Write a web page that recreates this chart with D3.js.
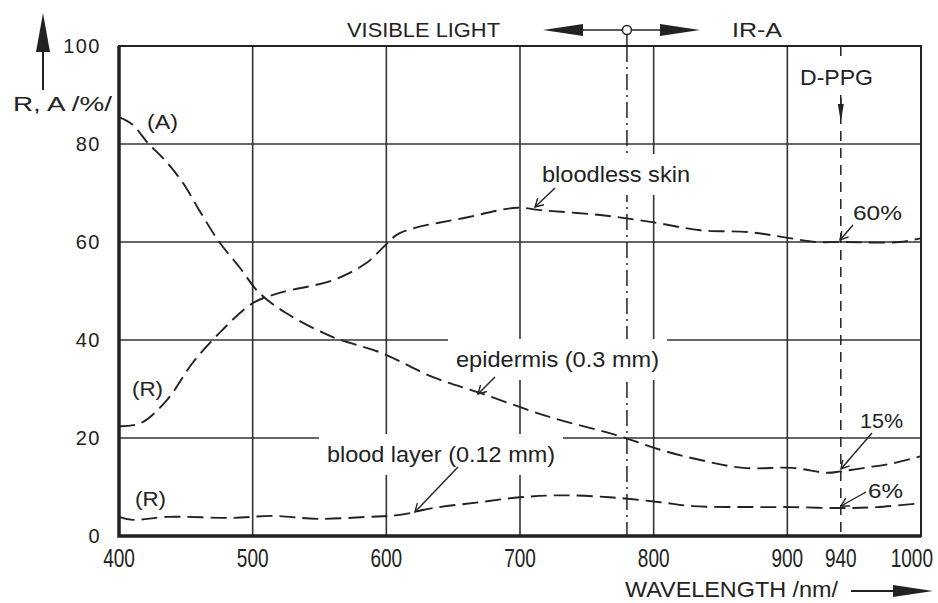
<!DOCTYPE html>
<html>
<head>
<meta charset="utf-8">
<script src="https://cdn.jsdelivr.net/npm/d3@7"></script>
<style>
  body { margin: 0; background: #fff; }
  svg text { font-family: "Liberation Sans", Arial, sans-serif; fill: #222; }
</style>
</head>
<body>
<svg width="938" height="603"></svg>
<script>
// absorption of the epidermis (A)
const epidermisNm = [400, 410, 421, 435, 448, 460, 475, 490, 505, 525, 560, 597, 635, 670, 722, 772, 805, 835, 867, 904, 930, 940, 960, 980, 1000];
const epidermisPct = [85.5, 84, 80.4, 76.5, 72, 66.5, 60, 54.9, 49.6, 45.5, 40.6, 37.3, 32.4, 29.2, 24.3, 20.6, 17.6, 15.5, 13.9, 13.9, 12.9, 13.2, 14, 14.9, 16.3];

// reflection of bloodless skin (R)
const skinNm = [400, 416, 436, 455, 475, 500, 520, 560, 585, 598, 610, 660, 698, 715, 760, 800, 835, 872, 897, 922, 940, 984, 1000];
const skinPct = [22.4, 23, 27.8, 35.3, 41.4, 47.5, 49.6, 52.2, 55.7, 59, 61.8, 65, 67, 66.5, 65.5, 64, 62.4, 62, 61, 60, 60, 60, 60.8];

// reflection of the blood layer (R)
const bloodNm = [400, 410, 436, 485, 515, 548, 586, 610, 635, 670, 700, 730, 767, 805, 829, 879, 904, 939, 967, 1000];
const bloodPct = [3.9, 3.3, 3.9, 3.7, 4.1, 3.5, 3.9, 4.3, 5.7, 6.9, 7.9, 8.3, 7.9, 6.9, 6.1, 5.9, 5.9, 5.7, 5.9, 6.7];

const xTicks = [400, 500, 600, 700, 800, 900, 940, 1000];
const yTicks = [0, 20, 40, 60, 80, 100];
const xGrid = [500, 600, 700, 800, 900];
const yGrid = [20, 40, 60, 80];
const visibleLimitNm = 780;
const dppgNm = 940;

const svg = d3.select('svg');
const x = d3.scaleLinear().domain([400, 1000]).range([119, 921]);
const y = d3.scaleLinear().domain([0, 100]).range([536, 46]);
const ink = '#222';

const defs = svg.append('defs');
defs.append('marker')
  .attr('id', 'open')
  .attr('viewBox', '-1 -6 10 12')
  .attr('refX', 8).attr('refY', 0)
  .attr('markerWidth', 10).attr('markerHeight', 12)
  .attr('markerUnits', 'userSpaceOnUse')
  .attr('orient', 'auto')
  .append('path')
  .attr('d', 'M0,-4.5L8,0L0,4.5')
  .attr('fill', 'none').attr('stroke', ink).attr('stroke-width', 1.4);

// grid
const grid = svg.append('g').attr('stroke', '#333').attr('stroke-width', 1.6);
grid.selectAll('.v').data(xGrid).join('line')
  .attr('x1', d => x(d)).attr('x2', d => x(d))
  .attr('y1', y(0)).attr('y2', y(100));
grid.selectAll('.h').data(yGrid).join('line')
  .attr('x1', x(400)).attr('x2', x(1000))
  .attr('y1', d => y(d)).attr('y2', d => y(d));

// frame
svg.append('rect')
  .attr('x', x(400)).attr('y', y(100))
  .attr('width', x(1000) - x(400)).attr('height', y(0) - y(100))
  .attr('fill', 'none').attr('stroke', ink).attr('stroke-width', 2);
svg.append('path')
  .attr('d', `M${x(400)},${y(100)}V${y(0)}H${x(1000)}`)
  .attr('fill', 'none').attr('stroke', ink).attr('stroke-width', 3.5);

// boundary visible / IR-A
svg.append('line')
  .attr('x1', x(visibleLimitNm)).attr('x2', x(visibleLimitNm))
  .attr('y1', 35).attr('y2', y(100))
  .attr('stroke', ink).attr('stroke-width', 1.5);
svg.append('line')
  .attr('x1', x(visibleLimitNm)).attr('x2', x(visibleLimitNm))
  .attr('y1', y(100)).attr('y2', y(0))
  .attr('stroke', ink).attr('stroke-width', 1.5)
  .attr('stroke-dasharray', '16,5,2,5');

// D-PPG line
svg.append('line')
  .attr('x1', x(dppgNm)).attr('x2', x(dppgNm))
  .attr('y1', y(100)).attr('y2', y(0))
  .attr('stroke', ink).attr('stroke-width', 1.5)
  .attr('stroke-dasharray', '10,7');

// labels with white backing so grid lines break around them
function label(txt, tx, ty, size, width, pad) {
  const g = svg.append('g');
  const bg = g.append('rect').attr('fill', '#fff');
  const t = g.append('text').attr('x', tx).attr('y', ty)
    .attr('font-size', size)
    .attr('textLength', width)
    .attr('lengthAdjust', 'spacingAndGlyphs')
    .text(txt);
  const b = t.node().getBBox();
  bg.attr('x', tx - pad).attr('y', b.y - pad)
    .attr('width', width + 2 * pad).attr('height', b.height + 2 * pad);
  return t;
}

label('bloodless skin', 542, 182, 22, 148, 8);
label('epidermis (0.3 mm)', 456, 367, 22, 203, 8);
label('blood layer (0.12 mm)', 327, 462, 22, 228, 8);
label('D-PPG', 800, 85, 22, 73, 8);
label('60%', 853, 220, 21, 49, 3);
label('15%', 860, 428, 21, 43, 3);
label('6%', 868, 498, 21, 35, 3);
label('(A)', 147, 129, 21, 31, 2);
label('(R)', 132, 396, 21, 31, 2);
label('(R)', 135, 506, 21, 31, 2);

// D-PPG arrow below label
svg.append('line')
  .attr('x1', x(dppgNm)).attr('x2', x(dppgNm))
  .attr('y1', 95).attr('y2', 108)
  .attr('stroke', ink).attr('stroke-width', 1.5);
svg.append('path')
  .attr('d', `M${x(dppgNm) - 3},104L${x(dppgNm) + 3},104L${x(dppgNm)},122Z`)
  .attr('fill', ink);

// curves
const line = d3.line()
  .x(d => x(d[0])).y(d => y(d[1]))
  .curve(d3.curveCatmullRom.alpha(0.5));
const curves = [
  d3.zip(epidermisNm, epidermisPct),
  d3.zip(skinNm, skinPct),
  d3.zip(bloodNm, bloodPct)
];
svg.append('g').selectAll('path').data(curves).join('path')
  .attr('d', line)
  .attr('fill', 'none').attr('stroke', ink).attr('stroke-width', 1.9)
  .attr('stroke-dasharray', '16,7');

// leader arrows
const leaders = [
  [555, 188, 535, 207],
  [495, 377, 478, 394],
  [458, 467, 415, 512],
  [853, 225, 840, 240],
  [872, 433, 841, 469],
  [866, 492, 841, 506]
];
svg.append('g').selectAll('line').data(leaders).join('line')
  .attr('x1', d => d[0]).attr('y1', d => d[1])
  .attr('x2', d => d[2]).attr('y2', d => d[3])
  .attr('stroke', ink).attr('stroke-width', 1.4)
  .attr('marker-end', 'url(#open)');

// axes tick labels
svg.append('g').selectAll('text').data(yTicks).join('text')
  .attr('x', 101).attr('y', d => y(d) + 7)
  .attr('text-anchor', 'end').attr('font-size', 20)
  .attr('letter-spacing', 1.5)
  .text(d => d);
// x tick labels are tall and narrow in the original
svg.append('g').selectAll('text').data(xTicks).join('text')
  .attr('transform', d => `translate(${d === 1000 ? 933 : x(d)},567) scale(1,1.35)`)
  .attr('text-anchor', d => d === 1000 ? 'end' : 'middle')
  .attr('font-size', 19)
  .text(d => d);

// axis titles
svg.append('text').attr('x', 13).attr('y', 111)
  .attr('font-size', 21).attr('textLength', 99)
  .attr('lengthAdjust', 'spacingAndGlyphs').text('R, A /%/');
svg.append('line').attr('x1', 43).attr('x2', 43).attr('y1', 90).attr('y2', 45)
  .attr('stroke', ink).attr('stroke-width', 2);
svg.append('path').attr('d', 'M36,52L50,52L43,13Z').attr('fill', ink);

svg.append('text').attr('x', 625).attr('y', 597)
  .attr('font-size', 22).attr('textLength', 213)
  .attr('lengthAdjust', 'spacingAndGlyphs').text('WAVELENGTH /nm/');
svg.append('line').attr('x1', 851).attr('x2', 896).attr('y1', 591).attr('y2', 591)
  .attr('stroke', ink).attr('stroke-width', 2);
svg.append('path').attr('d', 'M893,585L893,597L933,591Z').attr('fill', ink);

// top header
svg.append('text').attr('x', 347).attr('y', 37)
  .attr('font-size', 21).attr('textLength', 153)
  .attr('lengthAdjust', 'spacingAndGlyphs').text('VISIBLE LIGHT');
svg.append('text').attr('x', 732).attr('y', 37)
  .attr('font-size', 21).attr('textLength', 50)
  .attr('lengthAdjust', 'spacingAndGlyphs').text('IR-A');
const cx = x(visibleLimitNm);
svg.append('line').attr('x1', 580).attr('x2', cx - 4).attr('y1', 30).attr('y2', 30)
  .attr('stroke', ink).attr('stroke-width', 1.5);
svg.append('line').attr('x1', cx + 4).attr('x2', 664).attr('y1', 30).attr('y2', 30)
  .attr('stroke', ink).attr('stroke-width', 1.5);
svg.append('path').attr('d', 'M543,30L583,24L583,36Z').attr('fill', ink);
svg.append('path').attr('d', 'M700,30L660,24L660,36Z').attr('fill', ink);
svg.append('circle').attr('cx', cx).attr('cy', 30).attr('r', 4.5)
  .attr('fill', '#fff').attr('stroke', ink).attr('stroke-width', 1.5);
</script>
</body>
</html>
